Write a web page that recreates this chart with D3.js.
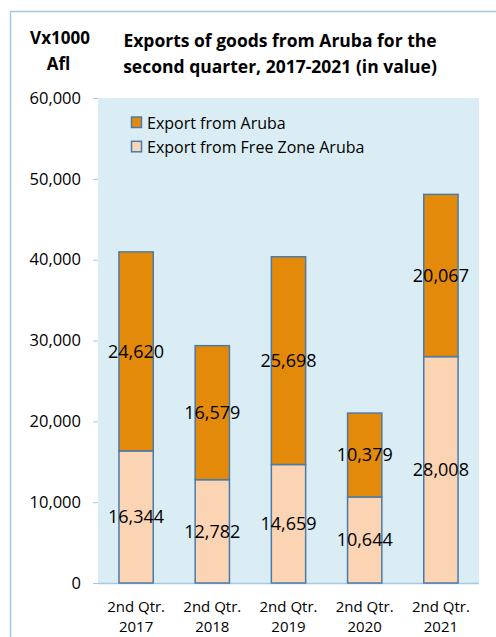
<!DOCTYPE html>
<html><head><meta charset="utf-8">
<script src="https://cdn.jsdelivr.net/npm/d3@7"></script>
<style>body{margin:0;background:#fff;} svg{display:block;}</style>
</head><body>
<svg id="c" width="496" height="637"></svg>
<script>
const categories = ["2nd Qtr.|2017","2nd Qtr.|2018","2nd Qtr.|2019","2nd Qtr.|2020","2nd Qtr.|2021"];
const freeZone = [16344, 12782, 14659, 10644, 28008];
const aruba = [24620, 16579, 25698, 10379, 20067];
const seriesNames = ["Export from Aruba", "Export from Free Zone Aruba"];
const yTicks = [0, 10000, 20000, 30000, 40000, 50000, 60000];

const FONT = "'Open Sans', sans-serif";
const svg = d3.select("#c");
const plot = {l: 98, r: 479, t: 98, b: 583};

// outer border
svg.append("rect").attr("x", 10.5).attr("y", 11.5).attr("width", 600).attr("height", 700)
  .attr("fill", "none").attr("stroke", "#a9c6e2").attr("stroke-width", 1.5);

// plot background
svg.append("rect").attr("x", plot.l).attr("y", plot.t).attr("width", plot.r - plot.l).attr("height", plot.b - plot.t)
  .attr("fill", "#dbedf4");

const x = d3.scaleBand().domain(categories).range([plot.l, plot.r]).paddingInner(0.55).paddingOuter(0.275);
const y = d3.scaleLinear().domain([0, 60000]).range([plot.b, plot.t]);

// y axis
const yAxis = d3.axisLeft(y).tickValues(yTicks).tickSize(5).tickFormat(d3.format(","));
const ya = svg.append("g").attr("transform", `translate(${plot.l},0)`).call(yAxis);
ya.select(".domain").remove();
ya.selectAll(".tick line").attr("stroke", "#a9c6e2");
ya.selectAll(".tick text").attr("font-family", FONT).attr("font-size", 16.5).attr("fill", "#000").attr("x", -17);

// x axis line
svg.append("line").attr("x1", plot.l).attr("x2", plot.r).attr("y1", plot.b + 0.5).attr("y2", plot.b + 0.5)
  .attr("stroke", "#a9c6e2").attr("stroke-width", 1.5);

// stacked bars
const data = categories.map((c, i) => ({c, fz: freeZone[i], ar: aruba[i]}));
const g = svg.append("g");
const stroke = "#4c7aa8";
g.selectAll("rect.fz").data(data).join("rect").attr("class", "fz")
  .attr("x", d => x(d.c)).attr("width", x.bandwidth())
  .attr("y", d => y(d.fz)).attr("height", d => y(0) - y(d.fz))
  .attr("fill", "#fbd4b4").attr("stroke", stroke).attr("stroke-width", 1.5);
g.selectAll("rect.ar").data(data).join("rect").attr("class", "ar")
  .attr("x", d => x(d.c)).attr("width", x.bandwidth())
  .attr("y", d => y(d.fz + d.ar)).attr("height", d => y(d.fz) - y(d.fz + d.ar))
  .attr("fill", "#e48a0a").attr("stroke", stroke).attr("stroke-width", 1.5);

// labels
const fmt = d3.format(",");
g.selectAll("text.fzl").data(data).join("text").attr("class", "fzl")
  .attr("x", d => x(d.c) + x.bandwidth() / 2).attr("y", d => y(d.fz / 2))
  .attr("dy", "0.36em").attr("text-anchor", "middle")
  .attr("font-family", FONT).attr("font-size", 18).attr("fill", "#000").text(d => fmt(d.fz));
g.selectAll("text.arl").data(data).join("text").attr("class", "arl")
  .attr("x", d => x(d.c) + x.bandwidth() / 2).attr("y", d => y(d.fz + d.ar / 2))
  .attr("dy", "0.36em").attr("text-anchor", "middle")
  .attr("font-family", FONT).attr("font-size", 18).attr("fill", "#000").text(d => fmt(d.ar));

// x labels
const xl = svg.append("g");
categories.forEach(c => {
  const parts = c.split("|");
  const cx = x(c) + x.bandwidth() / 2;
  const t = xl.append("text").attr("text-anchor", "middle")
    .attr("font-family", FONT).attr("font-size", 15).attr("fill", "#000");
  t.append("tspan").attr("x", cx).attr("y", 611.5).text(parts[0]);
  t.append("tspan").attr("x", cx).attr("y", 632.3).text(parts[1]);
});

// legend
const leg = svg.append("g");
const legColors = ["#e48a0a", "#fbd4b4"];
seriesNames.forEach((s, i) => {
  const yy = 117 + i * 24.3;
  leg.append("rect").attr("x", 131.5).attr("y", yy).attr("width", 10).attr("height", 10.5)
    .attr("fill", legColors[i]).attr("stroke", stroke).attr("stroke-width", 1.5);
  leg.append("text").attr("x", 147).attr("y", yy + 12).attr("font-family", FONT).attr("font-size", 16)
    .attr("fill", "#000").text(s);
});

// titles
const tt = svg.append("g").attr("font-family", FONT).attr("font-weight", "bold").attr("fill", "#000");
tt.append("text").attr("x", 60).attr("y", 44).attr("text-anchor", "middle").attr("font-size", 17).text("Vx1000");
tt.append("text").attr("x", 58.5).attr("y", 70).attr("text-anchor", "middle").attr("font-size", 17).text("Afl");
tt.append("text").attr("x", 280).attr("y", 46.5).attr("text-anchor", "middle").attr("font-size", 17.5).text("Exports of goods from Aruba for the");
tt.append("text").attr("x", 280).attr("y", 72.5).attr("text-anchor", "middle").attr("font-size", 17.5).text("second quarter, 2017-2021 (in value)");
</script>
</body></html>
